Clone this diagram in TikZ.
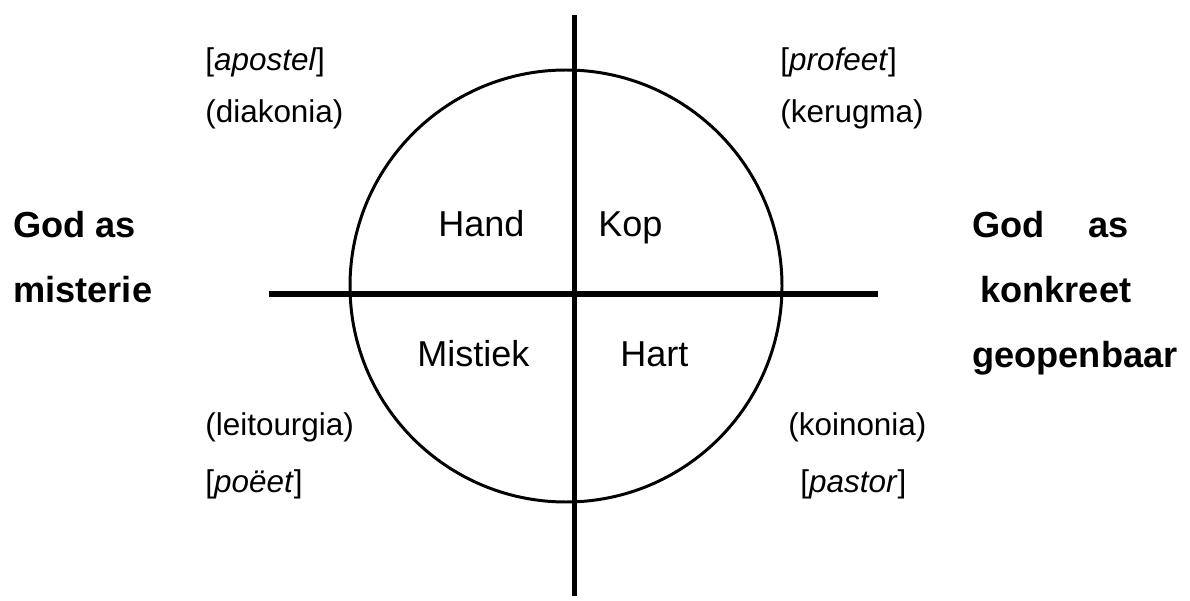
\documentclass[tikz,border=0pt]{standalone}
\usepackage{fontspec}
\setmainfont{Liberation Sans}
\usetikzlibrary{positioning}
\tikzset{
  rolelabel/.style={
    anchor=west,
    inner sep=0pt,
    text height=0.75em,
    text depth=0.25em,
    font=\fontsize{17.9pt}{20pt}\selectfont
  },
  quadrant/.style={
    anchor=west,
    inner sep=0pt,
    text height=0.75em,
    text depth=0.25em,
    font=\fontsize{20.5pt}{23pt}\selectfont
  },
  pole/.style={
    anchor=west,
    inner sep=0pt,
    text height=0.75em,
    text depth=0.25em,
    font=\fontsize{20.6pt}{23pt}\selectfont\bfseries
  },
  axis/.style={line width=2.85pt},
  ring/.style={line width=1.7pt}
}

\begin{document}
\begin{tikzpicture}[x=0.02cm,y=-0.02cm]
  \useasboundingbox (0,0) rectangle (1190,601);
  % circle and axes
  \coordinate (centre) at (566,286);
  \coordinate (top) at (574,15);
  \coordinate (bottom) at (574,596);
  \coordinate (west) at (269,294);
  \coordinate (east) at (878,294);
  \draw[ring] (centre) circle[radius=216];
  \draw[axis] (top) -- (bottom);
  \draw[axis] (west) -- (east);
  % quadrants
  \node[quadrant] (hand) at (438,232) {Hand};
  \node[quadrant] (kop) at (598,232) {Kop};
  \node[quadrant] (mistiek) at (417,362) {Mistiek};
  \node[quadrant] (hart) at (620,362) {Hart};
  % roles
  \node[rolelabel] (apostel) at (205,66) {[\textit{apostel}]};
  \node[rolelabel] (diakonia) at (205,118) {(diakonia)};
  \node[rolelabel] (profeet) at (780,66) {[\textit{profeet}]};
  \node[rolelabel] (kerugma) at (780,118) {(kerugma)};
  \node[rolelabel] (leitourgia) at (205,431) {(leitourgia)};
  \node[rolelabel] (poeet) at (205,488) {[\textit{poëet}]};
  \node[rolelabel] (koinonia) at (788,431) {(koinonia)};
  \node[rolelabel] (pastor) at (800,488) {[\textit{pastor}]};
  % poles
  \node[pole] (misteriea) at (13,233) {God as};
  \node[pole] (misterieb) at (13,298) {misterie};
  \node[pole] (konkreeta) at (972,233) {God\hspace{25pt}as};
  \node[pole] (konkreetb) at (980,298) {konkreet};
  \node[pole] (konkreetc) at (972,363) {geopenbaar};
\end{tikzpicture}
\end{document}
